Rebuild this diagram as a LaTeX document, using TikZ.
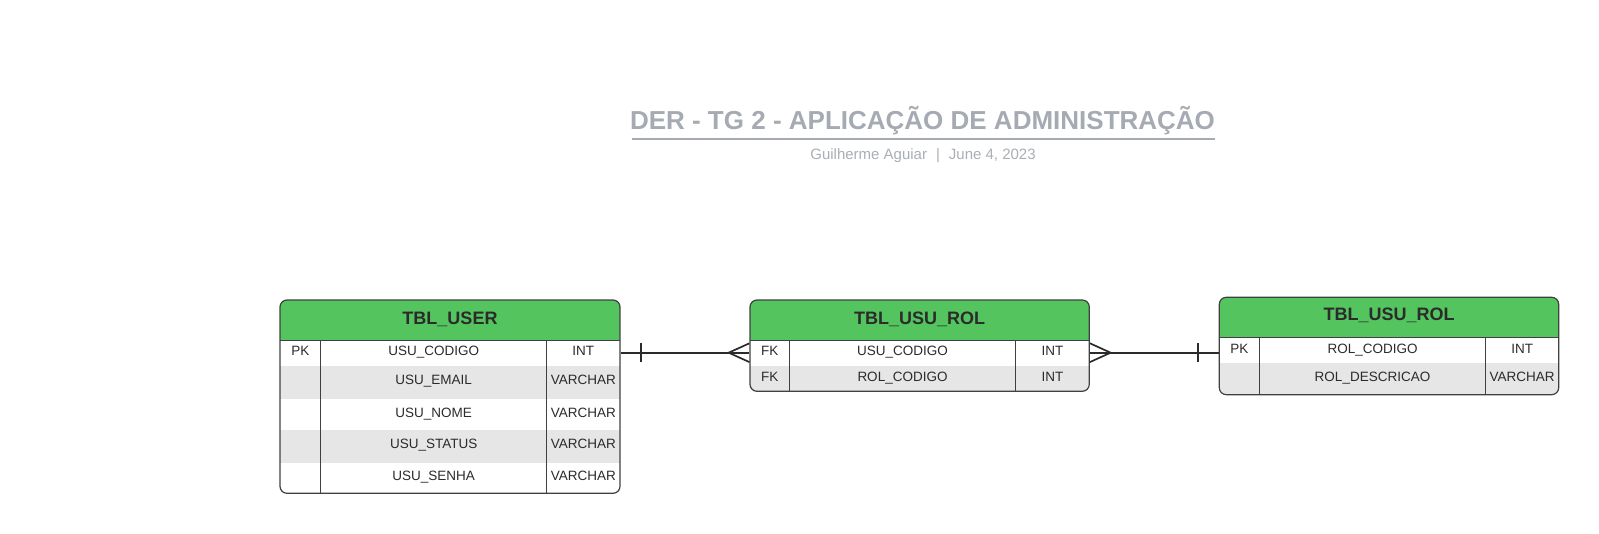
\documentclass[tikz,border=0pt]{standalone}
\usepackage{fontspec}
\setmainfont{Liberation Sans}
\usetikzlibrary{fit,calc}
\definecolor{hdrgreen}{HTML}{54C45F}
\definecolor{rowgray}{HTML}{E6E6E6}
\definecolor{edgegray}{HTML}{404040}
\definecolor{ttlgray}{HTML}{A5AAB3}
\definecolor{subgray}{HTML}{A9AEB5}
\definecolor{txtdark}{HTML}{2B2B2B}
\begin{document}
\begin{tikzpicture}[x=1pt,y=-1pt,
  tablebox/.style={draw=edgegray, line width=1.2pt, rounded corners=7pt, inner sep=0pt},
  hdrtext/.style={font=\fontsize{18}{21}\selectfont\bfseries, text=txtdark, anchor=base, inner sep=0pt},
  celltext/.style={font=\fontsize{13.5}{16}\selectfont, text=txtdark, anchor=base, inner sep=0pt},
  divider/.style={draw=edgegray, line width=1.1pt},
  link/.style={draw=txtdark, line width=1.7pt},
]
\useasboundingbox (0,0) rectangle (1599,534);

% ---------- title ----------
\node[font=\fontsize{26}{30}\selectfont\bfseries, text=ttlgray, anchor=base, inner sep=0pt] (title) at (922.5,129.7) {DER - TG 2 - APLICAÇÃO DE ADMINISTRAÇÃO};
\draw[ttlgray, line width=2pt] (631.7,139) coordinate (ul1) -- (1215,139) coordinate (ul2);
\node[font=\fontsize{15}{18}\selectfont, text=subgray, anchor=base, inner sep=0pt] (subtitle) at (923,160) {Guilherme Aguiar\hspace{9pt}|\hspace{9pt}June 4, 2023};

% ---------- TBL_USER ----------
\begin{scope}
  \clip[rounded corners=7pt] (280,300) rectangle (620,493.3);
  \fill[hdrgreen] (280,300) rectangle (620,340.7);
  \fill[rowgray] (280,366) rectangle (620,398.7);
  \fill[rowgray] (280,430) rectangle (620,462.7);
\end{scope}
\node[tablebox, fit={(280,300) (620,493.3)}] (t1) {};
\draw[divider] (280,340.7) -- (620,340.7);
\draw[divider] (320.7,340.7) -- (320.7,493.3);
\draw[divider] (546.7,340.7) -- (546.7,493.3);
\node[hdrtext] (t1h) at (450,324.3) {TBL\_USER};
\coordinate (t1r1) at (450,352.7);
\node[celltext] (t1k1) at (300.3,356) {PK};
\node[celltext] (t1n1) at (433.7,356) {USU\_CODIGO};
\node[celltext] (t1y1) at (583.3,356) {INT};
\node[celltext] (t1n2) at (433.7,385) {USU\_EMAIL};
\node[celltext] (t1y2) at (583.3,385) {VARCHAR};
\node[celltext] (t1n3) at (433.7,417.3) {USU\_NOME};
\node[celltext] (t1y3) at (583.3,417.3) {VARCHAR};
\node[celltext] (t1n4) at (433.7,449) {USU\_STATUS};
\node[celltext] (t1y4) at (583.3,449) {VARCHAR};
\node[celltext] (t1n5) at (433.7,480.7) {USU\_SENHA};
\node[celltext] (t1y5) at (583.3,480.7) {VARCHAR};

% ---------- TBL_USU_ROL (middle) ----------
\begin{scope}
  \clip[rounded corners=7pt] (750,300) rectangle (1089.3,391.3);
  \fill[hdrgreen] (750,300) rectangle (1089.3,340.7);
  \fill[rowgray] (750,366) rectangle (1089.3,391.3);
\end{scope}
\node[tablebox, fit={(750,300) (1089.3,391.3)}] (t2) {};
\draw[divider] (750,340.7) -- (1089.3,340.7);
\draw[divider] (789.3,340.7) -- (789.3,391.3);
\draw[divider] (1015.7,340.7) -- (1015.7,391.3);
\node[hdrtext] (t2h) at (919.7,324.3) {TBL\_USU\_ROL};
\node[celltext] (t2k1) at (769.7,356) {FK};
\node[celltext] (t2n1) at (902.5,356) {USU\_CODIGO};
\node[celltext] (t2y1) at (1052.5,356) {INT};
\node[celltext] (t2k2) at (769.7,382) {FK};
\node[celltext] (t2n2) at (902.5,382) {ROL\_CODIGO};
\node[celltext] (t2y2) at (1052.5,382) {INT};

% ---------- TBL_USU_ROL (right) ----------
\begin{scope}
  \clip[rounded corners=7pt] (1219.3,297.3) rectangle (1558.7,394.7);
  \fill[hdrgreen] (1219.3,297.3) rectangle (1558.7,337.3);
  \fill[rowgray] (1219.3,362.7) rectangle (1558.7,394.7);
\end{scope}
\node[tablebox, fit={(1219.3,297.3) (1558.7,394.7)}] (t3) {};
\draw[divider] (1219.3,337.3) -- (1558.7,337.3);
\draw[divider] (1259.3,337.3) -- (1259.3,394.7);
\draw[divider] (1485.7,337.3) -- (1485.7,394.7);
\node[hdrtext] (t3h) at (1389,320.7) {TBL\_USU\_ROL};
\node[celltext] (t3k1) at (1239.3,353.3) {PK};
\node[celltext] (t3n1) at (1372.5,353.3) {ROL\_CODIGO};
\node[celltext] (t3y1) at (1522.2,353.3) {INT};
\node[celltext] (t3n2) at (1372.5,382) {ROL\_DESCRICAO};
\node[celltext] (t3y2) at (1522.2,382) {VARCHAR};

% ---------- connectors ----------
\coordinate (c0) at (t1r1 -| t1.east);
\coordinate (c1) at (t1r1 -| t2.west);
\coordinate (c2) at (t1r1 -| t2.east);
\coordinate (c3) at (t1r1 -| t3.west);
\draw[link] (c0) -- (c1);
\draw[link] ($(c0)+(20.7,-9.4)$) -- ($(c0)+(20.7,9.4)$);
\draw[link] ($(c1)+(0,-9.4)$) -- ($(c1)+(-20.7,0)$) -- ($(c1)+(0,9.4)$);
\draw[link] (c2) -- (c3);
\draw[link] ($(c2)+(0,-9.4)$) -- ($(c2)+(20.7,0)$) -- ($(c2)+(0,9.4)$);
\draw[link] ($(c3)+(-21,-9.4)$) -- ($(c3)+(-21,9.4)$);
\end{tikzpicture}
\end{document}
